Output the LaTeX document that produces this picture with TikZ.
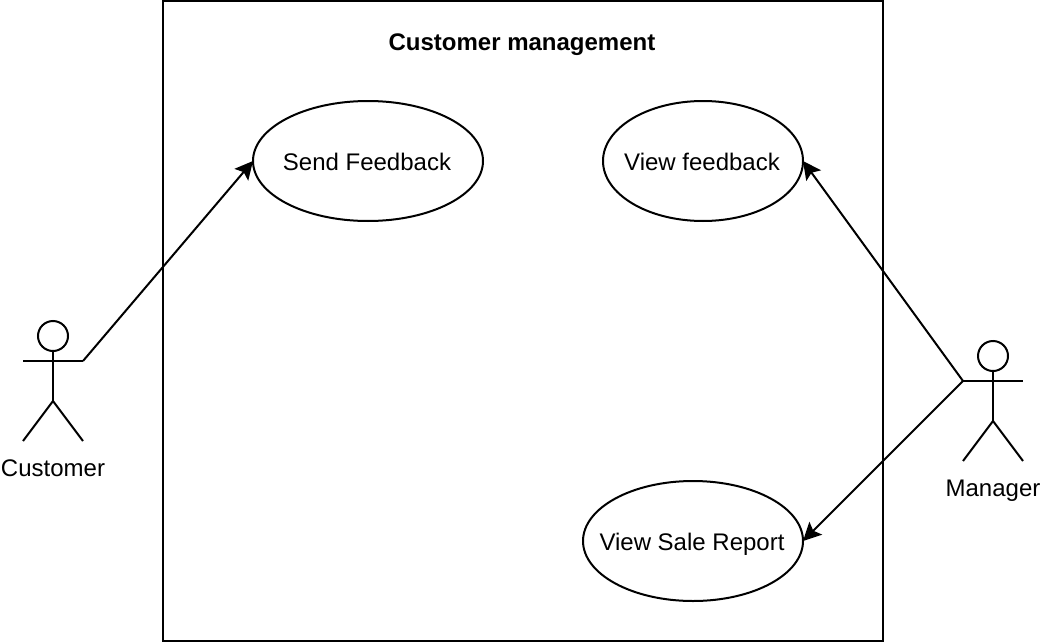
\documentclass[tikz,border=0pt]{standalone}
\usepackage{fontspec}
\setmainfont{Liberation Sans}
\usetikzlibrary{arrows.meta,positioning,shapes.geometric}
\newcommand{\ucname}[1]{\clap{\kern-2pt #1}}
\newcommand{\actorfig}[2]{% name, head centre
\node[draw,circle,outer sep=0pt,minimum size=30pt,inner sep=0pt] (#1head) at (#2) {};
\coordinate[below=50pt of #1head.south] (#1hip);
\coordinate[below=10pt of #1head.south] (#1neck);
\coordinate[left=30pt of #1neck] (#1handl);
\coordinate[right=30pt of #1neck] (#1handr);
\coordinate[below=40pt of #1hip,xshift=-30pt] (#1footl);
\coordinate[below=40pt of #1hip,xshift=30pt] (#1footr);
\draw (#1head.south)--(#1hip);\draw (#1handl)--(#1handr);
\draw (#1footl)--(#1hip)--(#1footr);}
\begin{document}
\begin{tikzpicture}[x=1pt,y=-1pt,>={Stealth[inset=3.5pt,length=18pt,width=18pt]},line width=2pt,
usecase/.style={draw,ellipse,outer sep=0pt,inner sep=0pt,text height=20pt,text depth=1pt,font=\fontsize{24}{28}\selectfont},
caption/.style={font=\fontsize{24}{28}\selectfont,inner sep=0pt,outer sep=0pt,anchor=base}]
\useasboundingbox (0,0) rectangle (1040,642);
\node[draw,outer sep=0pt,minimum width=720pt,minimum height=640pt,anchor=north west,inner sep=0pt] (system) at (163,1) {};
\node[caption,font=\fontsize{24}{28}\selectfont\bfseries] (title) at (522,50) {Customer management};
\node[usecase,minimum width=230pt,minimum height=120pt] (send) at (368,161) {\ucname{Send Feedback}};
\node[usecase,minimum width=200pt,minimum height=120pt] (view) at (703,161) {\ucname{View feedback}};
\node[usecase,minimum width=220pt,minimum height=120pt] (report) at (693,541) {\ucname{View Sale Report}};
\actorfig{customer}{53,336}
\actorfig{manager}{993,356}
\node[caption] (customerlabel) at (53,476) {Customer};
\node[caption] (managerlabel) at (993,496) {Manager};
\draw[->] (customerhandr)--(send.west);
\draw[->] (managerhandl)--(view.east);
\draw[->] (managerhandl)--(report.east);
\end{tikzpicture}
\end{document}
